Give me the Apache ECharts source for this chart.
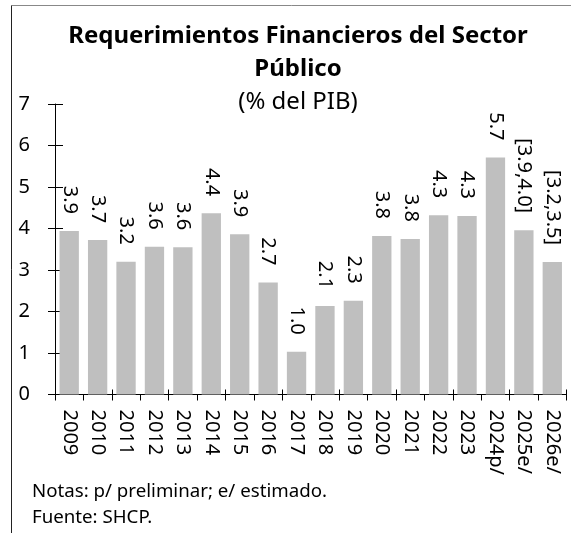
<!DOCTYPE html>
<html><head><meta charset="utf-8">
<script src="https://cdn.jsdelivr.net/npm/echarts@6/dist/echarts.min.js"></script>
<style>html,body{margin:0;padding:0;background:#fff}#c{width:571px;height:533px}</style>
</head><body><div id="c"></div>
<script>
const categories = ["2009","2010","2011","2012","2013","2014","2015","2016","2017","2018","2019","2020","2021","2022","2023","2024p/","2025e/","2026e/"];
const values = [3.94, 3.72, 3.2, 3.56, 3.55, 4.37, 3.86, 2.7, 1.03, 2.13, 2.26, 3.82, 3.75, 4.32, 4.3, 5.71, 3.96, 3.19];
const valueLabels = ["3.9","3.7","3.2","3.6","3.6","4.4","3.9","2.7","1.0","2.1","2.3","3.8","3.8","4.3","4.3","5.7","[3.9,4.0]","[3.2,3.5]"];
const yTicks = [0,1,2,3,4,5,6,7];
const titleText = "Requerimientos Financieros del Sector\nPúblico";
const subtitleText = "(% del PIB)";
const notes = ["Notas: p/ preliminar; e/ estimado.", "Fuente: SHCP."];

const FONT = "Noto Sans";
const chart = echarts.init(document.getElementById('c'), null, {renderer:'canvas'});
chart.setOption({
  animation: false,
  backgroundColor: '#fff',
  textStyle: {fontFamily: FONT},
  title: {
    text: titleText,
    subtext: subtitleText,
    left: 293, top: 15, textAlign: 'center',
    textStyle: {fontFamily: FONT, fontSize: 24, fontWeight: 'bold', color: '#000', lineHeight: 33},
    subtextStyle: {fontFamily: FONT, fontSize: 24, color: '#000', lineHeight: 26},
    itemGap: 3
  },
  grid: {left: 55, right: 4.5, top: 104, bottom: 138.5},
  xAxis: [{
    type: 'category', data: categories, position: 'bottom',
    axisLine: {lineStyle: {color: '#000', width: 1}},
    axisTick: {show: true, length: 6, lineStyle: {color: '#000'}},
    axisLabel: {rotate: -90, margin: 15, fontSize: 20, color: '#000', fontFamily: FONT, interval: 0}
  },{
    type: 'category', data: categories, position: 'bottom',
    axisLine: {show: false},
    axisTick: {show: true, inside: true, length: 5, lineStyle: {color: '#000'}},
    axisLabel: {show: false}
  }],
  yAxis: [{
    type: 'value', min: yTicks[0], max: yTicks[yTicks.length-1], interval: 1,
    axisLine: {show: true, lineStyle: {color: '#000', width: 1}},
    axisTick: {show: true, length: 7, lineStyle: {color: '#000'}},
    splitLine: {show: false},
    axisLabel: {margin: 25, fontSize: 20, color: '#000', fontFamily: FONT}
  },{
    type: 'value', min: yTicks[0], max: yTicks[yTicks.length-1], interval: 1, position: 'left',
    axisLine: {show: false},
    axisTick: {show: true, inside: true, length: 8, lineStyle: {color: '#000'}},
    splitLine: {show: false},
    axisLabel: {show: false}
  }],
  series: [{
    type: 'bar', data: values, xAxisIndex: 0, yAxisIndex: 0,
    barCategoryGap: '32%',
    itemStyle: {color: '#BFBFBF'},
    label: {
      show: true, position: 'top', rotate: -90, distance: 17,
      align: 'right', verticalAlign: 'middle',
      fontSize: 20, color: '#000', fontFamily: FONT,
      formatter: p => valueLabels[p.dataIndex]
    }
  }],
  graphic: [
    {type: 'line', shape: {x1: 11.5, y1: 5.5, x2: 571, y2: 5.5}, style: {stroke: '#888', lineWidth: 1}},
    {type: 'line', shape: {x1: 11.5, y1: 5.5, x2: 11.5, y2: 533}, style: {stroke: '#222', lineWidth: 1}},
    {type: 'text', x: 32, y: 492, style: {text: notes[0], font: '18.7px "Noto Sans"', fill: '#000', verticalAlign: 'middle'}},
    {type: 'text', x: 32, y: 518, style: {text: notes[1], font: '18.7px "Noto Sans"', fill: '#000', verticalAlign: 'middle'}}
  ]
});
</script></body></html>
